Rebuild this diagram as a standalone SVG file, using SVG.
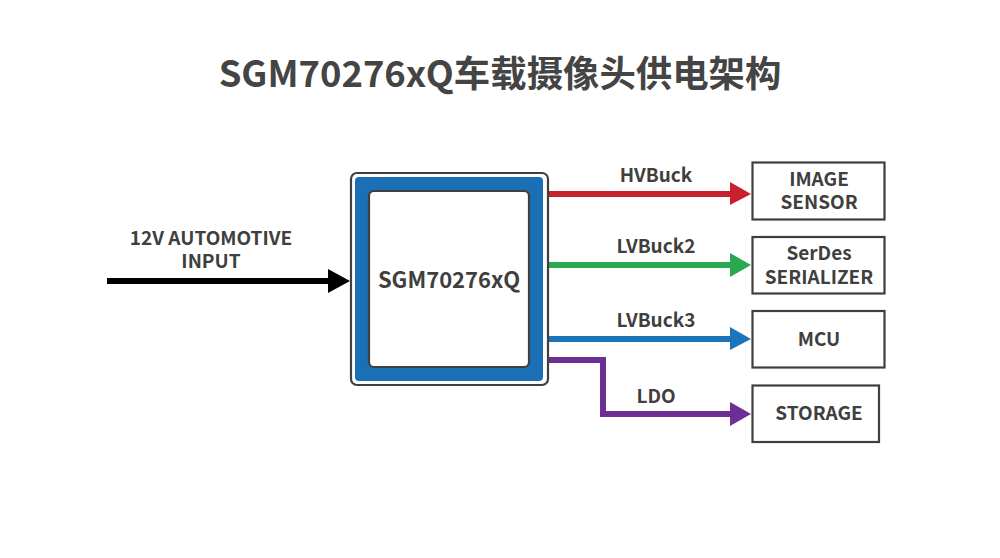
<svg xmlns="http://www.w3.org/2000/svg" width="1000" height="558" viewBox="0 0 1000 558">
<style>
text{font-family:"Noto Sans CJK SC","Noto Sans",sans-serif;font-weight:600;fill:#3f3f3f;text-anchor:middle}
.t{font-size:19px}
.box{fill:#fff;stroke:#3f3f3f;stroke-width:2.2}
.line{fill:none;stroke-width:6}
</style>
<rect width="1000" height="558" fill="#fff"/>
<text id="title" x="500" y="87" style="font-size:36.400px;font-weight:700;fill:#444">SGM70276xQ车载摄像头供电架构</text>
<g id="connectors">
<path class="line" d="M107 281H330" stroke="#000"/><polygon points="328,269 350,281 328,293" fill="#000"/>
<path class="line" d="M548 194H731" stroke="#c8202d"/><polygon points="730,182 751,194 730,205" fill="#c8202d"/>
<path class="line" d="M548 265H731" stroke="#2ba84f"/><polygon points="730,253 751,265 730,277" fill="#2ba84f"/>
<path class="line" d="M548 339H731" stroke="#1b75bb"/><polygon points="730,327 751,339 730,350" fill="#1b75bb"/>
<path class="line" d="M548 360H603V414H731" stroke="#6d2f94"/><polygon points="730,402 751,414 730,426" fill="#6d2f94"/>
</g>
<g id="labels">
<text class="t"><tspan x="211" y="245">12V AUTOMOTIVE</tspan><tspan x="211" y="268">INPUT</tspan></text>
<text class="t" x="656" y="182">HVBuck</text>
<text class="t" x="656" y="253">LVBuck2</text>
<text class="t" x="656" y="327">LVBuck3</text>
<text class="t" x="656" y="403">LDO</text>
</g>
<g id="chip">
<rect x="351" y="173" width="197" height="212" rx="6" fill="#fff" stroke="#3f3f3f" stroke-width="2.2"/>
<rect x="355" y="177" width="188" height="204" rx="4" fill="#1b6fb5"/>
<rect x="369" y="191" width="160" height="176" rx="5" class="box"/>
<text x="449" y="288" style="font-size:22px">SGM70276xQ</text>
</g>
<g id="image-sensor"><rect x="752.500" y="162.500" width="132" height="57" class="box"/><text class="t"><tspan x="819" y="186">IMAGE</tspan><tspan x="819" y="209">SENSOR</tspan></text></g>
<g id="serdes"><rect x="752.500" y="237" width="132" height="56.500" class="box"/><text class="t"><tspan x="819" y="260">SerDes</tspan><tspan x="819" y="283.500">SERIALIZER</tspan></text></g>
<g id="mcu"><rect x="752.500" y="311" width="132" height="56.500" class="box"/><text class="t" x="819" y="346">MCU</text></g>
<g id="storage"><rect x="752.500" y="385.500" width="126.500" height="56.500" class="box"/><text class="t" x="819" y="420">STORAGE</text></g>
</svg>
